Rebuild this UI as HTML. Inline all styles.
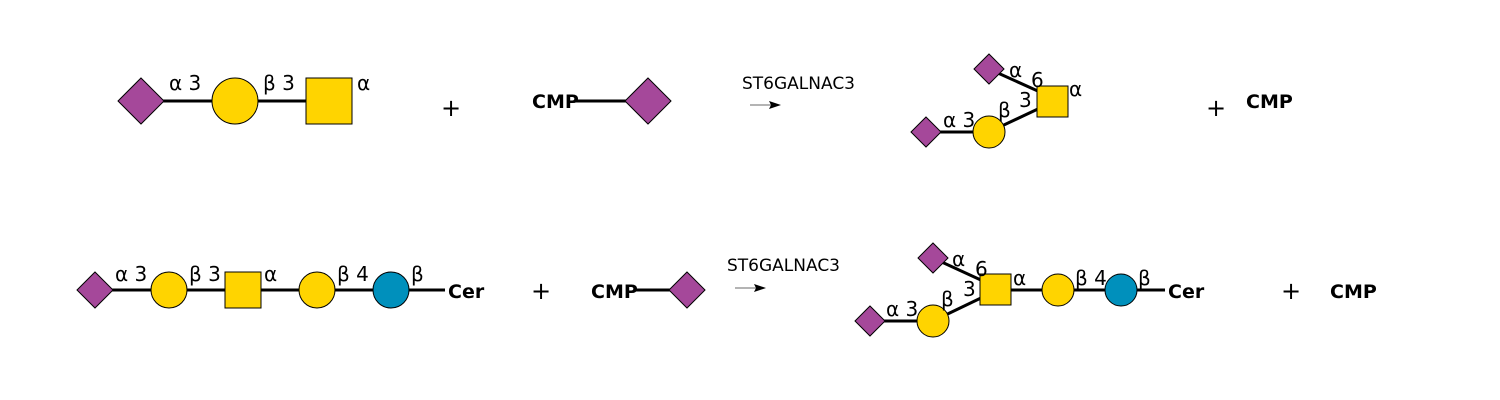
<!DOCTYPE html>
<html><head><meta charset="utf-8"><style>
html,body{margin:0;padding:0;background:#fff;width:1500px;height:400px;overflow:hidden}
text{font-family:"DejaVu Sans","Liberation Sans",sans-serif;fill:#000}
.l{font-size:20px}.b{font-size:19px;font-weight:bold}.e{font-size:17px}.p{font-size:24px}
.ln{stroke:#000;stroke-width:3}
.sia{fill:#A5489A;stroke:#000;stroke-width:1}
.gal{fill:#FFD400;stroke:#000;stroke-width:1}
.glc{fill:#0090BC;stroke:#000;stroke-width:1}
</style></head><body>
<svg width="1500" height="400">
<g>
<line class="ln" x1="141" y1="101" x2="329" y2="101"/>
<polygon class="sia" points="141,78 164,101 141,124 118,101"/>
<circle class="gal" cx="235" cy="101" r="23"/>
<rect class="gal" x="306" y="78" width="46" height="46"/>
<text class="l" x="169" y="90">α 3</text>
<text class="l" x="263" y="90">β 3</text>
<text class="l" x="357" y="90">α</text>
</g>
<text class="p" x="441" y="116">+</text>
<g>
<line class="ln" x1="575" y1="101" x2="648" y2="101"/>
<text class="b" x="532" y="108">CMP</text>
<polygon class="sia" points="648,78 671,101 648,124 625,101"/>
</g>
<g>
<text class="e" x="742" y="89">ST6GALNAC3</text>
<line x1="750" y1="105" x2="775" y2="105" stroke="#888" stroke-width="1.2"/>
<polygon points="781,105 769,101 771,105 769,109" fill="#000"/>
</g>
<g>
<line class="ln" x1="989" y1="69" x2="1040" y2="92"/>
<line class="ln" x1="989" y1="132" x2="1040" y2="108"/>
<line class="ln" x1="926" y1="132" x2="989" y2="132"/>
<polygon class="sia" points="989,54 1004,69 989,84 974,69"/>
<polygon class="sia" points="926,117 941,132 926,147 911,132"/>
<circle class="gal" cx="989" cy="132" r="16"/>
<rect class="gal" x="1037" y="86" width="31" height="31"/>
<text class="l" x="1009" y="77">α</text>
<text class="l" x="1031" y="87">6</text>
<text class="l" x="1019" y="107">3</text>
<text class="l" x="998" y="117">β</text>
<text class="l" x="943" y="127">α 3</text>
<text class="l" x="1069" y="96">α</text>
</g>
<text class="p" x="1206" y="116">+</text>
<text class="b" x="1246" y="108">CMP</text>

<g>
<line class="ln" x1="95" y1="290" x2="445" y2="290"/>
<polygon class="sia" points="95,272 113,290 95,308 77,290"/>
<circle class="gal" cx="169" cy="290" r="18"/>
<rect class="gal" x="225" y="272" width="36" height="36"/>
<circle class="gal" cx="317" cy="290" r="18"/>
<circle class="glc" cx="391" cy="290" r="18"/>
<text class="l" x="115" y="281">α 3</text>
<text class="l" x="189" y="281">β 3</text>
<text class="l" x="264" y="281">α</text>
<text class="l" x="337" y="281">β 4</text>
<text class="l" x="411" y="281">β</text>
<text class="b" x="448" y="298">Cer</text>
</g>
<text class="p" x="531" y="299">+</text>
<g>
<line class="ln" x1="634" y1="290" x2="687" y2="290"/>
<text class="b" x="591" y="298">CMP</text>
<polygon class="sia" points="687,272 705,290 687,308 669,290"/>
</g>
<g>
<text class="e" x="727" y="271">ST6GALNAC3</text>
<line x1="735" y1="288" x2="760" y2="288" stroke="#888" stroke-width="1.2"/>
<polygon points="766,288 754,284 756,288 754,292" fill="#000"/>
</g>
<g>
<line class="ln" x1="933" y1="258" x2="983" y2="281"/>
<line class="ln" x1="933" y1="321" x2="983" y2="297"/>
<line class="ln" x1="870" y1="321" x2="933" y2="321"/>
<line class="ln" x1="996" y1="290" x2="1165" y2="290"/>
<polygon class="sia" points="933,243 948,258 933,273 918,258"/>
<polygon class="sia" points="870,306 885,321 870,336 855,321"/>
<circle class="gal" cx="933" cy="321" r="16"/>
<rect class="gal" x="980" y="274" width="31" height="31"/>
<circle class="gal" cx="1058" cy="290" r="16"/>
<circle class="glc" cx="1121" cy="290" r="16"/>
<text class="l" x="952" y="266">α</text>
<text class="l" x="975" y="276">6</text>
<text class="l" x="963" y="296">3</text>
<text class="l" x="941" y="306">β</text>
<text class="l" x="886" y="316">α 3</text>
<text class="l" x="1013" y="285">α</text>
<text class="l" x="1075" y="285">β 4</text>
<text class="l" x="1138" y="285">β</text>
<text class="b" x="1168" y="298">Cer</text>
</g>
<text class="p" x="1281" y="299">+</text>
<text class="b" x="1330" y="298">CMP</text>
</svg>
</body></html>
